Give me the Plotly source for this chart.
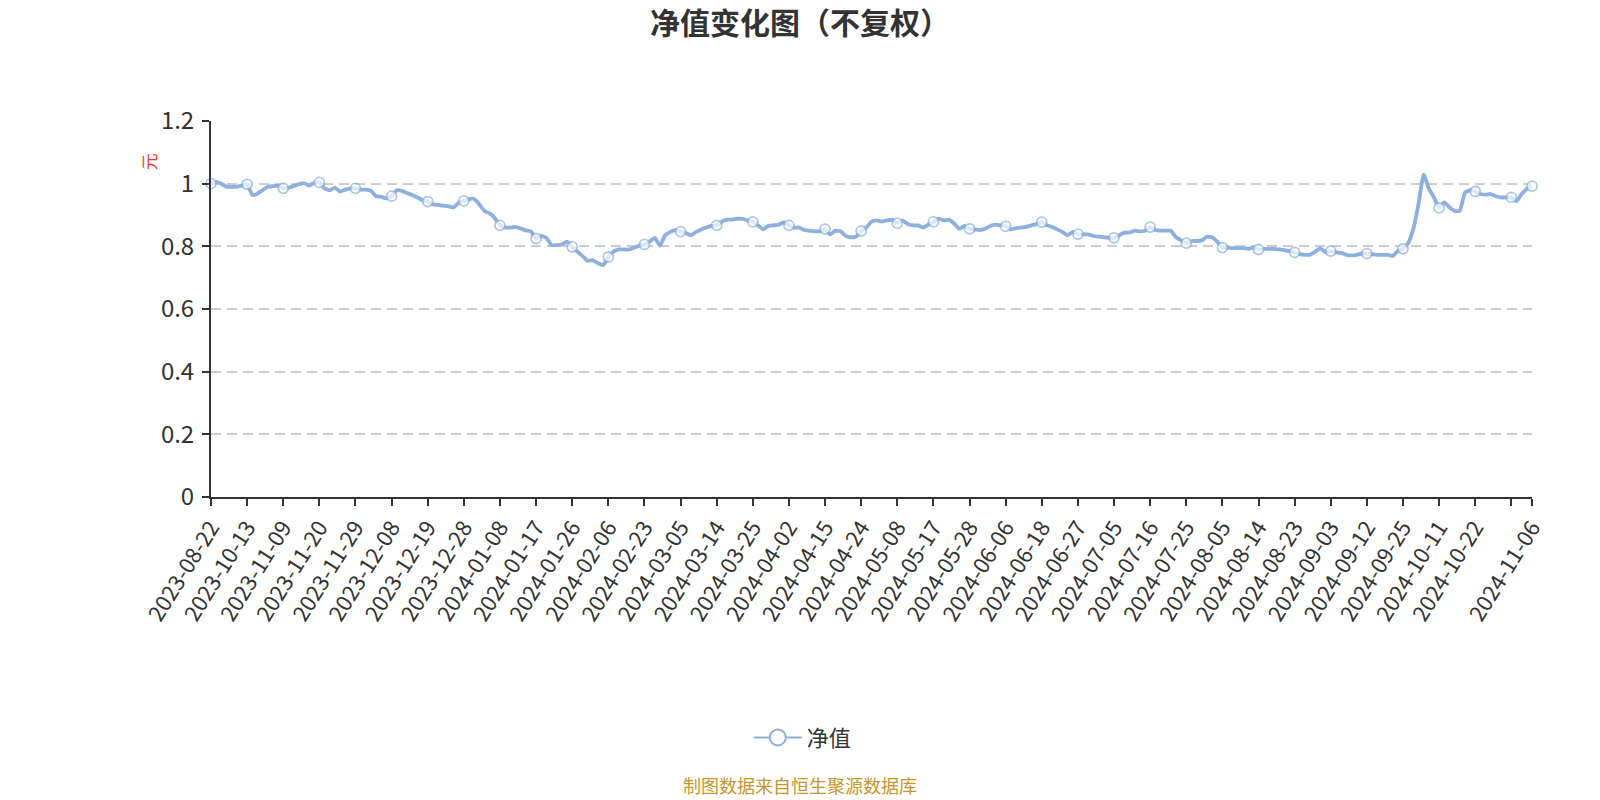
import plotly.graph_objects as go

# ---- categories (trading dates) ----
days_2023 = {
    "08": [22, 25], "09": [1, 8, 15, 22, 28], "10": [13, 20, 27],
    "11": [3, 6, 7, 8, 9, 10, 13, 14, 15, 16, 17, 20, 21, 22, 23, 24, 27, 28, 29, 30],
    "12": [1, 4, 5, 6, 7, 8, 11, 12, 13, 14, 15, 18, 19, 20, 21, 22, 25, 26, 27, 28, 29, 31],
}
days_2024 = {
    "01": [2, 3, 4, 5, 8, 9, 10, 11, 12, 15, 16, 17, 18, 19, 22, 23, 24, 25, 26, 29, 30, 31],
    "02": [1, 2, 5, 6, 7, 8, 19, 20, 21, 22, 23, 26, 27, 28, 29],
    "03": [1, 4, 5, 6, 7, 8, 11, 12, 13, 14, 15, 18, 19, 20, 21, 22, 25, 26, 27, 28, 29, 31],
    "04": [1, 2, 3, 8, 9, 10, 11, 12, 15, 16, 17, 18, 19, 22, 23, 24, 25, 26, 29, 30],
    "05": [6, 7, 8, 9, 10, 13, 14, 15, 16, 17, 20, 21, 22, 23, 24, 27, 28, 29, 30, 31],
    "06": [3, 4, 5, 6, 7, 11, 12, 13, 14, 17, 18, 19, 20, 21, 24, 25, 26, 27, 28, 30],
    "07": [1, 2, 3, 4, 5, 8, 9, 10, 11, 12, 15, 16, 17, 18, 19, 22, 23, 24, 25, 26, 29, 30, 31],
    "08": [1, 2, 5, 6, 7, 8, 9, 12, 13, 14, 15, 16, 19, 20, 21, 22, 23, 26, 27, 28, 29, 30],
    "09": [2, 3, 4, 5, 6, 9, 10, 11, 12, 13, 18, 19, 20, 23, 24, 25, 26, 27, 30],
    "10": [8, 9, 10, 11, 14, 15, 16, 17, 18, 21, 22, 23, 24, 25, 28, 29, 30, 31],
    "11": [1, 4, 5, 6],
}

# ---- series values (净值, 元) ----
nav_2023 = [
    1.000, 1.006, 1.000, 0.990, 0.990, 0.990, 0.994, 0.998, 0.964, 0.968,
    0.979, 0.990, 0.992, 0.994, 0.985, 0.987, 0.992, 0.998, 1.002, 0.994,
    1.002, 1.004, 0.985, 0.979, 0.987, 0.975, 0.981, 0.985, 0.985, 0.981,
    0.981, 0.977, 0.960, 0.958, 0.953, 0.960, 0.979, 0.977, 0.970, 0.964,
    0.956, 0.947, 0.943, 0.934, 0.932, 0.930, 0.928, 0.924, 0.939, 0.945,
    0.951, 0.951,
]
nav_2024_h1 = [
    0.934, 0.913, 0.905, 0.890, 0.867, 0.860, 0.860, 0.862, 0.857, 0.851,
    0.848, 0.825, 0.833, 0.827, 0.804, 0.804, 0.806, 0.815, 0.798, 0.783,
    0.769, 0.754, 0.756, 0.746, 0.740, 0.766, 0.783, 0.790, 0.790, 0.790,
    0.796, 0.802, 0.806, 0.815, 0.827, 0.802, 0.835, 0.846, 0.852, 0.847,
    0.842, 0.835, 0.846, 0.854, 0.860, 0.865, 0.867, 0.879, 0.885, 0.885,
    0.888, 0.888, 0.883, 0.878, 0.867, 0.854, 0.865, 0.867, 0.869, 0.877,
    0.867, 0.860, 0.860, 0.852, 0.850, 0.848, 0.848, 0.855, 0.838, 0.850,
    0.848, 0.833, 0.829, 0.831, 0.849, 0.860, 0.879, 0.883, 0.879, 0.883,
    0.885, 0.874, 0.883, 0.871, 0.867, 0.867, 0.860, 0.869, 0.878, 0.888,
    0.883, 0.885, 0.873, 0.856, 0.865, 0.856, 0.854, 0.852, 0.856, 0.865,
    0.869, 0.867, 0.864, 0.854, 0.858, 0.860, 0.862, 0.867, 0.871, 0.877,
    0.867, 0.862, 0.854, 0.846, 0.835, 0.846, 0.839, 0.838, 0.838,
]
nav_2024_h2 = [
    0.833, 0.831, 0.829, 0.827, 0.827, 0.835, 0.844, 0.844, 0.850, 0.848,
    0.850, 0.861, 0.852, 0.850, 0.850, 0.850, 0.829, 0.819, 0.810, 0.817,
    0.817, 0.819, 0.831, 0.829, 0.815, 0.796, 0.796, 0.794, 0.794, 0.794,
    0.792, 0.796, 0.790, 0.792, 0.792, 0.792, 0.790, 0.788, 0.785, 0.781,
    0.775, 0.773, 0.773, 0.783, 0.794, 0.781, 0.785, 0.781, 0.779, 0.773,
    0.771, 0.773, 0.777, 0.777, 0.775, 0.773, 0.773, 0.773, 0.769, 0.785,
    0.792, 0.810, 0.856, 0.935, 1.029, 0.985, 0.956, 0.923, 0.940, 0.925,
    0.913, 0.913, 0.971, 0.979, 0.975, 0.967, 0.965, 0.967, 0.960, 0.956,
    0.956, 0.956, 0.944, 0.967, 0.983, 0.992,
]

dates = []
for year, months in (("2023", days_2023), ("2024", days_2024)):
    for m, ds in months.items():
        dates += [f"{year}-{m}-{d:02d}" for d in ds]
nav = nav_2023 + nav_2024_h1 + nav_2024_h2

n = len(dates)
step = 7
tick_idx = list(range(0, n, step))
if tick_idx[-1] != n - 1:
    tick_idx.append(n - 1)
tick_vals = [dates[i] for i in tick_idx]
tick_text = [dates[i] for i in tick_idx]
tick_text[-2] = ""  # label hidden (overlap) before the last one

marker_sizes = [10 if (i % step == 0 or i == n - 1) else 0 for i in range(n)]

LINE = "#8DB0DE"
FONT = "Noto Sans CJK SC"

fig = go.Figure()
fig.add_trace(go.Scatter(
    x=dates, y=nav, mode="lines+markers", name="净值", showlegend=False,
    line=dict(color=LINE, width=3.8, shape="spline", smoothing=0.4),
    marker=dict(size=marker_sizes, color="white", line=dict(color=LINE, width=1.8)),
    cliponaxis=False,
))
fig.add_trace(go.Scatter(
    x=[None], y=[None], mode="lines+markers", name="净值",
    line=dict(color=LINE, width=2),
    marker=dict(size=24, color="white", line=dict(color=LINE, width=2)),
))

fig.update_layout(
    width=1600, height=800,
    paper_bgcolor="white", plot_bgcolor="white",
    margin=dict(l=211, r=68, t=121, b=303),
    font=dict(family=FONT, color="#333333"),
    title=dict(text="<b>净值变化图（不复权）</b>", x=0.5, xref="container", xanchor="center",
               y=0.9706, yref="container", yanchor="middle",
               font=dict(size=30, color="#333333", family=FONT)),
    showlegend=True,
    legend=dict(orientation="h", x=0.448, xanchor="center", y=-0.640, yanchor="middle",
                font=dict(size=22, color="#333333", family=FONT), itemwidth=48),
    xaxis=dict(
        type="category", categoryorder="array", categoryarray=dates,
        range=[0, n - 1],
        tickmode="array", tickvals=tick_vals, ticktext=tick_text,
        tickangle=-58, tickfont=dict(size=22, color="#333333", family=FONT),
        showgrid=False, showline=True, linecolor="#333333", linewidth=2,
        ticks="outside", ticklen=7, tickcolor="#333333", tickwidth=2,
        zeroline=False,
    ),
    yaxis=dict(
        range=[0, 1.2], dtick=0.2, tick0=0,
        tickfont=dict(size=24, color="#333333", family=FONT),
        ticklabelstandoff=3,
        showgrid=True, gridcolor="#cccccc", griddash="10px,6px", gridwidth=1.5,
        showline=True, linecolor="#333333", linewidth=2,
        ticks="outside", ticklen=7, tickcolor="#333333", tickwidth=2,
        zeroline=False,
    ),
    annotations=[
        dict(text="元", xref="paper", yref="paper", x=-0.0473, y=0.8916,
             showarrow=False, textangle=-90, font=dict(size=17, color="#ff3333", family=FONT),
             xanchor="center", yanchor="middle"),
        dict(text="制图数据来自恒生聚源数据库", xref="paper", yref="paper", x=0.446, y=-0.766,
             showarrow=False, font=dict(size=18, color="#C8952C", family=FONT),
             xanchor="center", yanchor="middle"),
    ],
)

fig.write_html("out.html", config={"displayModeBar": False},
               post_script="document.body.style.margin='0px';")
